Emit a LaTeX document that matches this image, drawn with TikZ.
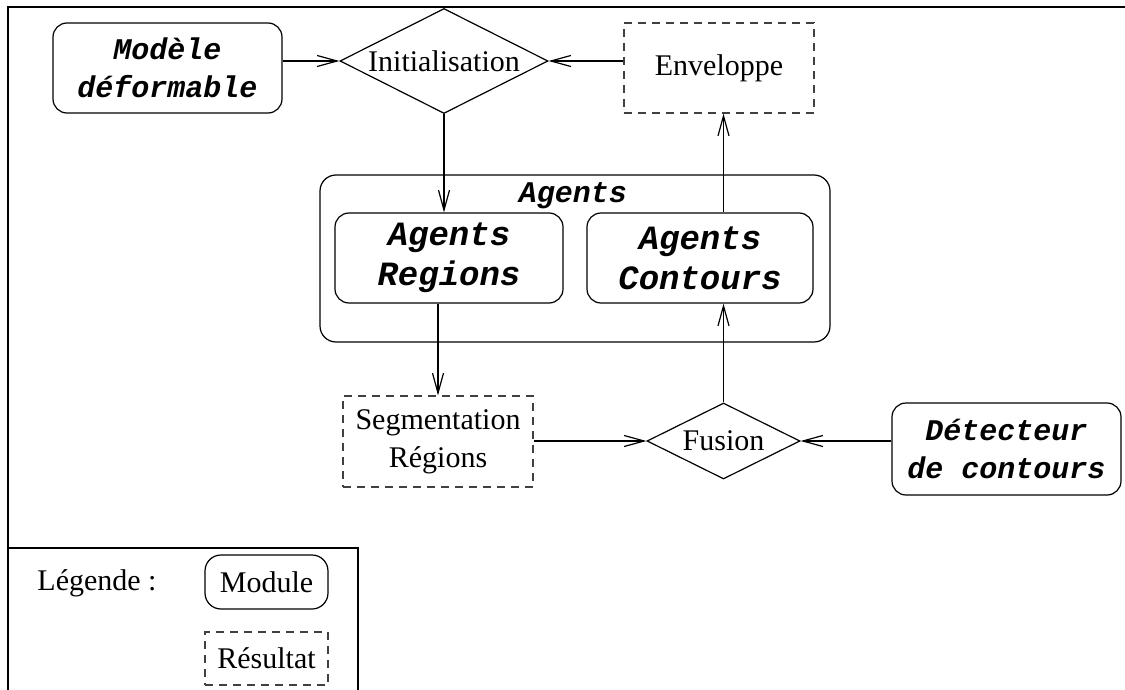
\documentclass[tikz,border=0pt]{standalone}
\usepackage{fontspec}
\setmainfont{Liberation Serif}
\newfontfamily\codefont{Liberation Mono}
\usetikzlibrary{shapes.geometric,arrows.meta}

\begin{document}
\begin{tikzpicture}[x=0.5pt,y=-0.5pt,line width=0.6pt,font=\fontsize{15}{19}\selectfont]
\tikzstyle{module} = [rectangle, rounded corners=7pt, draw=black, align=center, inner sep=0pt]
\tikzstyle{result} = [rectangle, draw=black!75, dash pattern=on 4pt off 3pt, align=center, inner sep=0pt]
\tikzstyle{test} = [diamond, draw=black, aspect=2, inner sep=0pt]
\tikzstyle{code} = [font=\codefont\bfseries\itshape\fontsize{15}{19}\selectfont]
\tikzstyle{bigcode} = [font=\codefont\bfseries\itshape\fontsize{17}{20}\selectfont]
\tikzstyle{arrow} = [-{Straight Barb[length=10pt,width=5.5pt]}]
\useasboundingbox (0,0) rectangle (1125,690);
\draw (8,690) -- (8,7) -- (1125,7);
\node (model) [module, code, minimum width=114.5pt, minimum height=45pt] at (167.5,68) {Modèle\\déformable};
\node (init) [test, minimum width=104pt, minimum height=52.5pt] at (444,61) {Initialisation};
\node (env) [result, minimum width=95pt, minimum height=45pt] at (719,68) {Enveloppe};
\node (agents) [module, rounded corners=8pt, minimum width=255pt, minimum height=83.5pt] at (575,258.5) {};
\node (title) [code] at (573,196) {Agents};
\node (agreg) [module, bigcode, minimum width=114pt, minimum height=45pt] at (449,258) {Agents\\Regions};
\node (agcont) [module, bigcode, minimum width=113pt, minimum height=45pt] at (700,258) {Agents\\Contours};
\node (seg) [result, minimum width=95pt, minimum height=45.5pt] at (438,441.5) {Segmentation\\Régions};
\node (fusion) [test, minimum width=76.5pt, minimum height=38pt] at (723.5,441) {Fusion};
\node (detect) [module, code, minimum width=114.5pt, minimum height=46pt] at (1006.5,449) {Détecteur\\de contours};
\draw [arrow] (model.east |- init) -- (init.west);
\draw [arrow] (env.west |- init) -- (init.east);
\draw [arrow] (init.south) -- (init.south |- agreg.north);
\draw [arrow] (seg.north |- agreg.south) -- (seg.north);
\draw [arrow] (seg.east |- fusion) -- (fusion.west);
\draw [arrow] (detect.west |- fusion) -- (fusion.east);
\draw [arrow] (fusion.north) -- (fusion.north |- agcont.south);
\draw [arrow] (fusion.north |- agcont.north) -- (fusion.north |- env.south);
% legende
\draw (8,548) -- (358,548) -- (358,690);
\node (leg) at (97,583) {Légende :};
\node (mod) [module, rounded corners=8pt, minimum width=61.5pt, minimum height=27pt] at (266.5,582) {Module};
\node (res) [result, minimum width=61.5pt, minimum height=26.5pt] at (266.5,658.5) {Résultat};
\end{tikzpicture}
\end{document}
